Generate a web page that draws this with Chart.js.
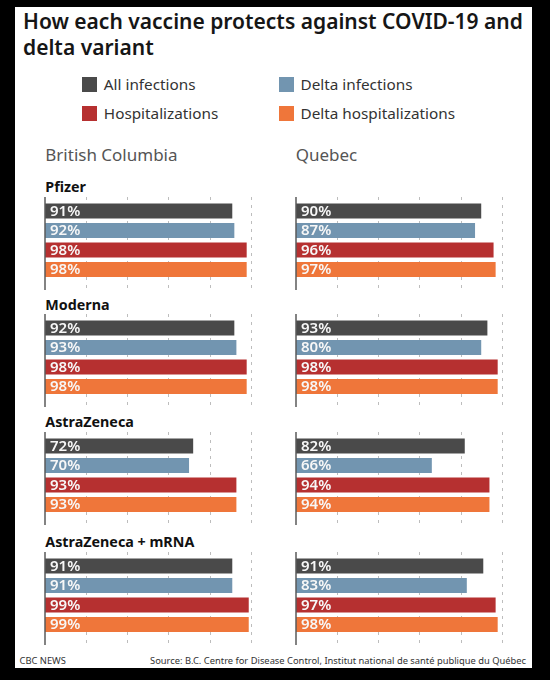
<!DOCTYPE html>
<html>
<head>
<meta charset="utf-8">
<script src="https://cdn.jsdelivr.net/npm/chart.js@4.4.1/dist/chart.umd.min.js"></script>
<style>
  html, body { margin: 0; padding: 0; background: #000; width: 550px; height: 680px; overflow: hidden; }
  #card { position: absolute; left: 15px; top: 7px; width: 517px; height: 661px; background: #fff; }
  .abs { position: absolute; white-space: nowrap; font-family: "Noto Sans", sans-serif; }
  .title { left: 23px; top: 9.2px; font-size: 21px; font-weight: 600; line-height: 25.5px; color: #161616; }
  .leg { font-size: 15.3px; line-height: 20px; color: #333; }
  .sw { position: absolute; width: 15px; height: 15px; }
  .prov { font-size: 17px; line-height: 20px; color: #555; }
  .vac { font-size: 14.3px; font-weight: 700; line-height: 20px; color: #111; }
  .foot { font-size: 9.35px; line-height: 12px; color: #333; }
  canvas { position: absolute; }
</style>
</head>
<body>
<div id="card"></div>
<div class="abs title">How each vaccine protects against COVID-19 and<br>delta variant</div>
<div id="root"></div>
<div class="abs foot" style="left:19.5px; top:655px;">CBC NEWS</div>
<div class="abs foot" style="right:24px; top:655px;">Source: B.C. Centre for Disease Control, Institut national de santé publique du Québec</div>
<script>
// ---- data ----
const provinces = ['British Columbia', 'Quebec'];
const vaccines = ['Pfizer', 'Moderna', 'AstraZeneca', 'AstraZeneca + mRNA'];
const measures = ['All infections', 'Delta infections', 'Hospitalizations', 'Delta hospitalizations'];
// printed values (%)
const bcPfizer = [91, 92, 98, 98];
const bcModerna = [92, 93, 98, 98];
const bcAstra = [72, 70, 93, 93];
const bcAstraMrna = [91, 91, 99, 99];
const qcPfizer = [90, 87, 96, 97];
const qcModerna = [93, 80, 98, 98];
const qcAstra = [82, 66, 94, 94];
const qcAstraMrna = [91, 83, 97, 98];
// in the original graphic the Quebec Moderna "80%" bar is drawn at about 90%
const qcModernaBarLength = [93, 90, 98, 98];
const tickValues = [0, 20, 40, 60, 80, 100];

// ---- styles / layout ----
const colors = ['#4a4a4a', '#7295b0', '#b63030', '#ef763a'];
const provinceValues = [
  [bcPfizer, bcModerna, bcAstra, bcAstraMrna],
  [qcPfizer, qcModerna, qcAstra, qcAstraMrna]
];
const provinceBars = [
  [bcPfizer, bcModerna, bcAstra, bcAstraMrna],
  [qcPfizer, qcModernaBarLength, qcAstra, qcAstraMrna]
];
const axisX = [45.3, 295.7];
const barTops = [203, 320.7, 438, 558.3];
const plotW = 205.8;
const root = document.getElementById('root');

function el(tag, cls, style, text) {
  const e = document.createElement(tag);
  if (cls) e.className = cls;
  e.setAttribute('style', style);
  if (text !== undefined) e.textContent = text;
  root.appendChild(e);
  return e;
}

// legend
const legPos = [[82.3, 76.7], [279, 76.7], [82.3, 105.7], [279, 105.7]];
measures.forEach((m, i) => {
  const [x, y] = legPos[i];
  el('div', 'sw', `left:${x}px;top:${y}px;background:${colors[i]};`);
  el('div', 'abs leg', `left:${x + 21.5}px;top:${y + 7.5 - 10.3}px;`, m);
});

// province headings
provinces.forEach((p, i) => {
  el('div', 'abs prov', `left:${axisX[i]}px;top:145px;`, p);
});

// vaccine headings (left column only)
vaccines.forEach((v, i) => {
  el('div', 'abs vac', `left:${axisX[0]}px;top:${barTops[i] - 11 - 15}px;`, v);
});

const framePlugin = {
  id: 'frame',
  beforeDatasetsDraw(chart) {
    const ctx = chart.ctx, x = chart.scales.x, h = chart.height;
    ctx.save();
    ctx.strokeStyle = '#bdbdbd';
    ctx.lineWidth = 1;
    ctx.setLineDash([3, 5]);
    tickValues.forEach(v => {
      if (v === 0) return;
      const px = Math.round(x.getPixelForValue(v)) + 0.5;
      ctx.beginPath();
      ctx.moveTo(px, 0);
      ctx.lineTo(px, h);
      ctx.stroke();
    });
    ctx.restore();
  },
  afterDatasetsDraw(chart) {
    const ctx = chart.ctx, x = chart.scales.x, h = chart.height;
    const px = x.getPixelForValue(tickValues[0]);
    ctx.save();
    ctx.strokeStyle = '#5a5a5a';
    ctx.lineWidth = 1.5;
    ctx.beginPath();
    ctx.moveTo(px, 0);
    ctx.lineTo(px, h);
    ctx.stroke();
    // value labels
    const meta = chart.getDatasetMeta(0);
    const printed = chart.data.datasets[0].printed;
    ctx.fillStyle = '#f7f7f7';
    ctx.font = '600 15px "Noto Sans"';
    ctx.textBaseline = 'middle';
    ctx.textAlign = 'left';
    meta.data.forEach((bar, i) => {
      ctx.fillText(printed[i] + '%', px + 5, bar.y + 0.5);
    });
    ctx.restore();
  }
};

const canvasH = 93;
provinceValues.forEach((vals, p) => {
  vals.forEach((series, v) => {
    const c = document.createElement('canvas');
    const w = 212;
    c.width = w; c.height = canvasH;
    c.style.left = (axisX[p] - 1) + 'px';
    c.style.top = (barTops[v] - 6.5) + 'px';
    c.style.width = w + 'px';
    c.style.height = canvasH + 'px';
    root.appendChild(c);
    new Chart(c, {
      type: 'bar',
      data: {
        labels: measures,
        datasets: [{
          data: provinceBars[p][v],
          printed: series,
          backgroundColor: colors,
          borderWidth: 0,
          barPercentage: 0.768,
          categoryPercentage: 1
        }]
      },
      options: {
        indexAxis: 'y',
        responsive: false,
        animation: false,
        devicePixelRatio: 1,
        layout: { padding: { left: 1, right: w - 1 - plotW, top: 4.2, bottom: canvasH - 4.2 - 78.1 } },
        scales: {
          x: { min: 0, max: 100, display: false },
          y: { display: false }
        },
        plugins: { legend: { display: false }, tooltip: { enabled: false } }
      },
      plugins: [framePlugin]
    });
  });
});
</script>
</body>
</html>
